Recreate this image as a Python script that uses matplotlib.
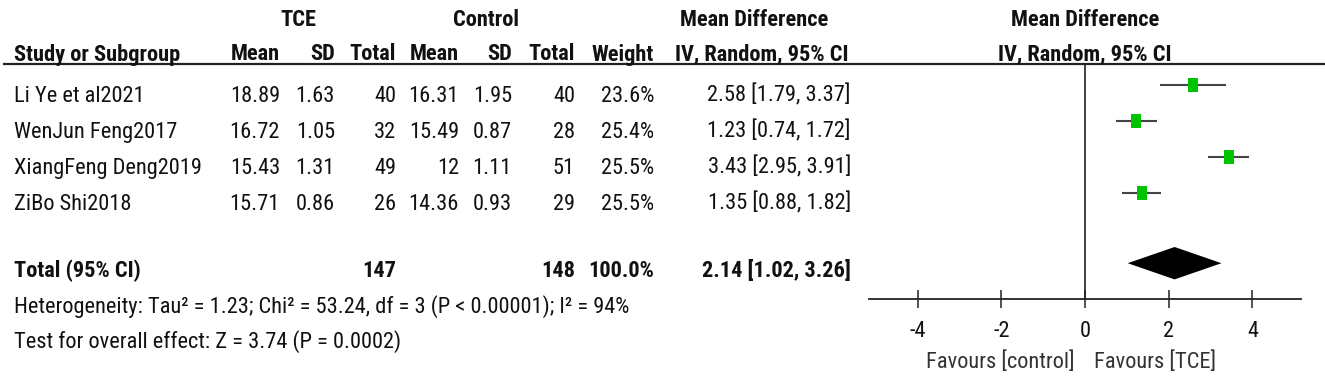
import numpy as np
import matplotlib
matplotlib.use("Agg")
import matplotlib.pyplot as plt
from matplotlib.lines import Line2D
from matplotlib import font_manager as fm

# ---------------- data ----------------
studies = ["Li Ye et al2021", "WenJun Feng2017", "XiangFeng Deng2019", "ZiBo Shi2018"]
tce_mean = [18.89, 16.72, 15.43, 15.71]
tce_sd = [1.63, 1.05, 1.31, 0.86]
tce_n = [40, 32, 49, 26]
ctl_mean = [16.31, 15.49, 12, 14.36]
ctl_sd = [1.95, 0.87, 1.11, 0.93]
ctl_n = [40, 28, 51, 29]
weights = [23.6, 25.4, 25.5, 25.5]
md = [2.58, 1.23, 3.43, 1.35]
ci_lo = [1.79, 0.74, 2.95, 0.88]
ci_hi = [3.37, 1.72, 3.91, 1.82]
total_label = "Total (95% CI)"
total_tce_n = 147
total_ctl_n = 148
total_weight = 100.0
total_md = 2.14
total_lo = 1.02
total_hi = 3.26
heterogeneity = "Heterogeneity: Tau\u00b2 = 1.23; Chi\u00b2 = 53.24, df = 3 (P < 0.00001); I\u00b2 = 94%"
overall = "Test for overall effect: Z = 3.74 (P = 0.0002)"
x_ticks = [-4, -2, 0, 2, 4]
favours_left = "Favours [control]"
favours_right = "Favours [TCE]"

# ---------------- font choice (narrow face if available) ----------------
ttf = fm.fontManager.ttflist


def has(name, stretch=None):
    for f in ttf:
        if f.name == name and (stretch is None or str(f.stretch) in ('condensed', 'semi-condensed', 'extra-condensed', '75', '87')):
            return True
    return False


if has('Liberation Sans Narrow'):
    FAM, STRETCH, FS = 'Liberation Sans Narrow', 'normal', 16.5
elif has('Roboto Condensed'):
    FAM, STRETCH, FS = 'Roboto Condensed', 'normal', 16.1
elif has('Roboto', 'condensed'):
    FAM, STRETCH, FS = 'Roboto', 'condensed', 16.1
elif has('DejaVu Sans', 'condensed'):
    FAM, STRETCH, FS = 'DejaVu Sans', 'condensed', 13.4
else:
    FAM, STRETCH, FS = 'Liberation Sans', 'normal', 13.8

plt.rcParams['font.family'] = [FAM, 'DejaVu Sans']
plt.rcParams['font.stretch'] = STRETCH

W, H = 1325, 382
fig = plt.figure(figsize=(W / 100, H / 100), dpi=100)


def P(x, y):
    return (x / W, 1 - y / H)


def txt(x, y, s, ha='left', bold=False, color='#111111', size=None):
    fig.text(*P(x, y), s, ha=ha, va='baseline', fontsize=size or FS,
             fontweight='bold' if bold else 'normal', color=color,
             fontstretch=STRETCH, transform=fig.transFigure)


# layout (pixels)
row0_base = 101.5
row_dy = 36
total_base = 277
het_base = 312.5
test_base = 347.5
hdr1_base = 26.5
hdr2_base = 60.5
line_y = 64

col_study = 14
cols = {"tce_mean": 280, "tce_sd": 335, "tce_n": 396, "ctl_mean": 459,
        "ctl_sd": 512, "ctl_n": 575, "weight": 654, "md": 851}

# header
txt(298, hdr1_base, "TCE", ha='center', bold=True)
txt(486, hdr1_base, "Control", ha='center', bold=True)
txt(754, hdr1_base, "Mean Difference", ha='center', bold=True)
txt(1085, hdr1_base, "Mean Difference", ha='center', bold=True)
txt(col_study, hdr2_base, "Study or Subgroup", bold=True)
for key, lab in [("tce_mean", "Mean"), ("tce_sd", "SD"), ("tce_n", "Total"),
                 ("ctl_mean", "Mean"), ("ctl_sd", "SD"), ("ctl_n", "Total"),
                 ("weight", "Weight")]:
    txt(cols[key], hdr2_base, lab, ha='right', bold=True)
txt(762, hdr2_base, "IV, Random, 95% CI", ha='center', bold=True)
txt(1085, hdr2_base, "IV, Random, 95% CI", ha='center', bold=True)

fig.add_artist(Line2D([4 / W, 1.0], [1 - line_y / H, 1 - line_y / H],
                      color='#222222', lw=1.6, transform=fig.transFigure))

# rows
for i, s in enumerate(studies):
    yb = row0_base + i * row_dy
    txt(col_study, yb, s)
    txt(cols["tce_mean"], yb, f"{tce_mean[i]:g}", ha='right')
    txt(cols["tce_sd"], yb, f"{tce_sd[i]:g}", ha='right')
    txt(cols["tce_n"], yb, f"{tce_n[i]}", ha='right')
    txt(cols["ctl_mean"], yb, f"{ctl_mean[i]:g}", ha='right')
    txt(cols["ctl_sd"], yb, f"{ctl_sd[i]:g}", ha='right')
    txt(cols["ctl_n"], yb, f"{ctl_n[i]}", ha='right')
    txt(cols["weight"], yb, f"{weights[i]:.1f}%", ha='right')
    txt(cols["md"], yb, f"{md[i]:.2f} [{ci_lo[i]:.2f}, {ci_hi[i]:.2f}]", ha='right')

txt(col_study, total_base, total_label, bold=True)
txt(cols["tce_n"], total_base, f"{total_tce_n}", ha='right', bold=True)
txt(cols["ctl_n"], total_base, f"{total_ctl_n}", ha='right', bold=True)
txt(cols["weight"], total_base, f"{total_weight:.1f}%", ha='right', bold=True)
txt(cols["md"], total_base, f"{total_md:.2f} [{total_lo:.2f}, {total_hi:.2f}]", ha='right', bold=True)
txt(col_study, het_base, heterogeneity)
txt(col_study, test_base, overall)

# ---------------- forest axes ----------------
ax_left, ax_right = 869, 1301
ax_top, ax_bottom = line_y, 299
ax = fig.add_axes([ax_left / W, 1 - ax_bottom / H, (ax_right - ax_left) / W, (ax_bottom - ax_top) / H])
marker_y0 = 85
n = len(studies)
ys = np.arange(n)
total_y = n + 0.95
ax.set_xlim(-5.16, 5.16)
ax.set_ylim((ax_bottom - marker_y0) / row_dy, (ax_top - marker_y0) / row_dy)
ax.patch.set_alpha(0)

ax.axvline(0, color='#333333', lw=1.3, zorder=1)
ax.hlines(ys, ci_lo, ci_hi, color='#444444', lw=1.5, zorder=2)
sq = [(-0.7, -1), (0.7, -1), (0.7, 1), (-0.7, 1), (-0.7, -1)]
ax.plot(md, ys, linestyle='none', marker=sq, markersize=9.8, color='#00C400',
        markeredgewidth=0, zorder=3)
dh = 0.45
ax.fill([total_lo, total_md, total_hi, total_md],
        [total_y, total_y - dh, total_y, total_y + dh], color='black', lw=0, zorder=3)

for sp in ['top', 'left', 'right']:
    ax.spines[sp].set_visible(False)
ax.spines['bottom'].set_linewidth(1.3)
ax.spines['bottom'].set_color('#222222')
ax.set_yticks([])
ax.set_xticks(x_ticks)
ax.set_xticklabels([f"{t}" for t in x_ticks])
ax.tick_params(axis='x', direction='inout', length=13, width=1.1, color='#222222',
               labelsize=FS, labelcolor='#111111', pad=9)
for lab in ax.get_xticklabels():
    lab.set_fontstretch(STRETCH)

# favours labels
zero_px = ax_left + (0 - (-5.16)) / 10.32 * (ax_right - ax_left)
txt(zero_px - 10, 368, favours_left, ha='right', color='#333333')
txt(zero_px + 9, 368, favours_right, ha='left', color='#333333')

fig.savefig("out.png", dpi=100)
